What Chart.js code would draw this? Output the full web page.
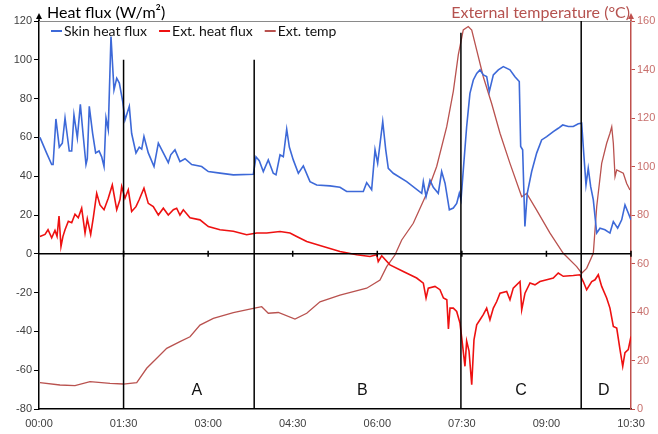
<!DOCTYPE html>
<html><head><meta charset="utf-8">
<script src="https://cdn.jsdelivr.net/npm/chart.js@4.4.0/dist/chart.umd.min.js"></script>
<style>html,body{margin:0;padding:0;background:#fff;overflow:hidden}#wrap{width:658px;height:434px;position:relative}</style>
</head><body><div id="wrap"><canvas id="c" width="658" height="434"></canvas></div>
<script>
// ---- data (time in minutes since 00:00) ----
const xTickLabels = ['00:00','01:30','03:00','04:30','06:00','07:30','09:00','10:30'];
const leftTicks = [-80,-60,-40,-20,0,20,40,60,80,100,120];
const rightTicks = [0,20,40,60,80,100,120,140,160];

const skinTime = [1,8,13.5,15,18,21.6,24.8,27.7,32.2,34.8,37.2,40.8,44,47.1,50,51.4,53.5,57.1,60.3,63.9,66.7,69.2,71.3,73.7,76.6,79.8,82.7,85.5,89.1,91.5,96.1,98.6,103.2,106.7,109.3,111.7,116.3,122.4,127,132.3,137.6,140.2,144.7,150,155.4,162.5,173.1,180.2,192.6,206.8,228.1,230.9,234.4,238.7,244,249.3,252.2,256.5,260,263.6,266.4,270.6,276,281.3,288.4,295.5,309.7,320.3,327.4,345.1,348.7,354,357.6,360.4,365.8,369,371.7,377,391.3,407.3,409,411.9,416.1,419.6,424.9,428.5,432.1,436.7,440.9,444.5,447.3,449.1,451.5,455.1,458.6,462.2,465.8,469.3,472.8,476.4,479.2,483.5,488.8,494.1,501.2,506.5,511.1,512.6,514.7,517.1,519.6,524.3,529.6,534.9,540.3,547.3,552.6,557.3,563.3,568.6,573.9,577.5,579.2,582.1,584.5,587.1,589.9,593.5,597,602.3,607.6,611.2,615.8,620.1,623.6,627.1,630];
const skinFlux = [60,52,46,46,69.5,55,57,70,53,53,71.6,59.7,77,60.6,46,49,76,62,52,53,50,45,70,64,112,84.5,90.5,88,78.5,69,76,62,52,55,54,60.5,52,45,57,52,47,51,53.6,47.5,49,46,45,42.4,41.6,40.7,41,50,48,42.4,48.4,41.5,40.7,51,50,64.2,55,48.4,41.5,45.3,37.2,35.5,35,34.3,32.1,32.1,36.7,33,53.6,46.7,68.2,53.6,44,41.5,37.2,31.2,37.2,29.5,38,34.3,31.2,42.4,36.4,22.7,23.6,26,31.2,27.8,43,65.5,82.7,89.6,93,94.8,92.2,91.4,83.6,92.2,94.8,96.5,94.8,91.3,88.8,55.3,53.6,14.1,31.2,42.4,51.9,58.7,60.4,63,64.7,66.4,65.6,65.6,67,67.3,55.3,35.5,44.1,34.6,27.8,10.7,13.2,12.4,10.7,16.6,13.2,17.5,25.2,21,17.5];

const extTime = [1,6.4,9.6,13.5,17,19.2,21.3,23.4,25.5,27.7,31.2,34.8,38.3,41.8,45.4,49,51.4,55,57.8,61.4,64.9,69.2,73.7,78,82.7,86.2,88,91.5,95,98.6,103.2,106.7,111.7,116.3,121.6,127,132.3,137.6,143,146.5,150,153.6,160.7,171.3,180.2,192.6,206.8,221,231.7,242.3,256.5,267.1,274.2,284.9,302.5,320.3,338.1,352.2,359.4,361,364.7,373.5,387.7,401.9,409,411.9,414.3,421.4,426.7,430.4,434,435.7,437.4,440.9,444.5,448,450.9,453.3,455.1,457.6,460.5,462.9,465.8,469.3,472.8,476.4,479.9,483.5,487.1,490.6,497.7,501.2,504.7,511.9,513.7,517.2,522.5,527.8,533.1,540.3,547.3,552.6,557.9,568.6,575.7,579.2,582.8,588.2,591.7,595.2,598.8,604.1,607.6,611.2,614.8,618.3,621.2,623.6,627.1,630];
const extFlux = [8.9,10,12.4,8.2,12,9,19.5,3.8,9,12.4,16.8,16,20.4,18.6,23.5,10.7,18,10,18.6,31.2,25.2,22.7,28.6,35.5,22.7,28,34.7,28.6,33,21.8,24.3,28,33.8,26,24.3,20,23.5,20,22.7,23.5,20,22.7,18.6,17.5,14,12.4,11.6,9.8,10.7,10.7,11.5,10.7,8.9,6.3,3.8,1.2,-0.5,-1.4,-0.5,-4,-1,-5.7,-9.1,-12.5,-15.1,-22.8,-17.7,-16.8,-18.5,-22.8,-23.7,-38.7,-28,-28,-29.7,-35.7,-47.7,-58,-45,-50,-67.5,-44.3,-36.6,-34,-31.4,-28,-34,-28,-24.6,-20.3,-19.4,-23.7,-17.7,-14.3,-28.8,-20.3,-15,-16,-14.3,-13.4,-12.5,-9.9,-11.6,-11.2,-10.8,-14.3,-18.5,-14.3,-13.4,-10.8,-16.8,-22.8,-28,-37.4,-38.3,-49.4,-58,-51,-49.4,-42.6];

const tempTime = [1,22.3,38.3,54.3,75.6,89.7,104,114.6,125.3,135.9,150,160.7,171.3,185.5,206.8,228.1,237,244,254.7,272.4,284.9,299,320.3,348.7,362.9,370,378.8,386,398.3,412.6,423.2,433.9,440.9,446.2,451.5,456.8,460.5,465.8,472.8,481.7,490.6,501.2,513.7,519,529.6,543.8,557.9,572.2,577.5,582.8,589.9,593.5,598.8,604.1,607.6,609.5,611.2,613,614.8,621.8,625.4,628.9];
const extTemp = [10.9,9.9,9.6,11.3,10.6,10.3,10.9,16.8,20.9,25,27.8,29.8,34.6,37.4,39.7,41.5,42.2,39.5,39.8,37.1,39.5,44.2,47,49.8,53.2,58.7,63.5,69.7,76.6,88.9,100,116.4,131,146,156.3,157.7,156.3,148,137,126,113.7,101.3,87.5,88.9,82,72.5,64.2,58.7,56,58,64.2,83.4,101.3,109.6,113.7,116.4,109.6,95.8,98.6,97.2,93,90.3];

const phaseStart = [90, 229, 449, 577];
const phaseTop = [100, 100, 114, 120];
const phaseNames = ['A','B','C','D'];
const phaseLabelTime = [168, 344, 513, 601];
const phaseLabelValue = -70.5;

const seriesNames = ['Skin heat flux','Ext. heat flux','Ext. temp'];
const leftTitle = 'Heat flux (W/m²)';
const rightTitle = 'External temperature (°C)';

// ---- build ----
const pts = (t, v) => t.map((x, i) => ({x, y: v[i]}));
const C_BLUE = '#3d69d8', C_RED = '#ee1111', C_BROWN = '#b9524f';
const UI = "'Lato','Open Sans',sans-serif";
const NUM = "'Liberation Sans','Arial',sans-serif";

const deco = {
  id: 'deco',
  afterDatasetsDraw(chart) {
    const {ctx, chartArea: a, scales: {x, y, y2}} = chart;
    ctx.save();
    // top frame line
    ctx.strokeStyle = '#8a8a8a'; ctx.lineWidth = 1;
    ctx.beginPath(); ctx.moveTo(a.left, a.top + 0.5); ctx.lineTo(a.right, a.top + 0.5); ctx.stroke();
    // zero line with ticks
    const y0 = y.getPixelForValue(0);
    ctx.strokeStyle = '#000'; ctx.lineWidth = 1.5;
    ctx.beginPath(); ctx.moveTo(a.left, y0); ctx.lineTo(a.right, y0);
    x.ticks.forEach(t => { if (t.value > x.min) { const px = x.getPixelForValue(t.value); ctx.moveTo(px, y0 - 3); ctx.lineTo(px, y0 + 3); } });
    ctx.stroke();
    // phase lines
    phaseStart.forEach((t, i) => {
      const px = x.getPixelForValue(t);
      ctx.beginPath(); ctx.moveTo(px, y.getPixelForValue(phaseTop[i])); ctx.lineTo(px, a.bottom); ctx.stroke();
    });
    // phase letters
    ctx.fillStyle = '#111'; ctx.font = "16px " + NUM; ctx.textAlign = 'center'; ctx.textBaseline = 'middle';
    phaseNames.forEach((n, i) => ctx.fillText(n, x.getPixelForValue(phaseLabelTime[i]), y.getPixelForValue(phaseLabelValue)));
    ctx.restore();
  },
  afterDraw(chart) {
    const {ctx, chartArea: a} = chart;
    ctx.save();
    // axis arrows
    const arrow = (px, col) => {
      ctx.strokeStyle = col; ctx.fillStyle = col; ctx.lineWidth = 1.5;
      ctx.beginPath(); ctx.moveTo(px, a.top); ctx.lineTo(px, a.top - 4); ctx.stroke();
      ctx.beginPath(); ctx.moveTo(px, a.top - 8); ctx.lineTo(px - 3, a.top - 2); ctx.lineTo(px + 3, a.top - 2); ctx.closePath(); ctx.fill();
    };
    arrow(a.left, '#000');
    arrow(a.right, '#c0504d');
    // titles
    ctx.textBaseline = 'alphabetic';
    ctx.font = "16px " + UI; ctx.fillStyle = '#000'; ctx.textAlign = 'left';
    ctx.fillText(leftTitle, a.left + 8, a.top - 3);
    ctx.fillStyle = '#b5524f'; ctx.textAlign = 'right';
    ctx.fillText(rightTitle, a.right - 1, a.top - 3);
    // legend
    ctx.font = "14px " + UI; ctx.textAlign = 'left'; ctx.textBaseline = 'middle';
    let lx = a.left + 12; const ly = a.top + 10;
    chart.data.datasets.forEach(ds => {
      ctx.strokeStyle = ds.borderColor; ctx.lineWidth = 2;
      ctx.beginPath(); ctx.moveTo(lx, ly); ctx.lineTo(lx + 11, ly); ctx.stroke();
      lx += 13;
      ctx.fillStyle = '#111'; ctx.fillText(ds.label, lx, ly);
      lx += ctx.measureText(ds.label).width + 12;
    });
    ctx.restore();
  }
};

new Chart(document.getElementById('c'), {
  type: 'line',
  data: {
    datasets: [
      {label: seriesNames[0], data: pts(skinTime, skinFlux), borderColor: C_BLUE, borderWidth: 1.6, yAxisID: 'y'},
      {label: seriesNames[1], data: pts(extTime, extFlux), borderColor: C_RED, borderWidth: 1.6, yAxisID: 'y'},
      {label: seriesNames[2], data: pts(tempTime, extTemp), borderColor: C_BROWN, borderWidth: 1.3, yAxisID: 'y2'}
    ]
  },
  options: {
    responsive: false, animation: false, devicePixelRatio: 1,
    layout: {padding: {top: 21, left: 0, right: 0, bottom: 0}},
    elements: {point: {radius: 0}, line: {tension: 0, fill: false}},
    plugins: {legend: {display: false}, tooltip: {enabled: false}},
    scales: {
      x: {
        type: 'linear', min: 0, max: 630,
        afterFit: s => { s.height = 25; },
        afterBuildTicks: s => { s.ticks = xTickLabels.map((_, i) => ({value: i * 90})); },
        ticks: {callback: (v) => xTickLabels[Math.round(v / 90)], maxRotation: 0, autoSkip: false, color: '#404040', padding: 8,
                font: {family: "'Liberation Sans Narrow','Arial Narrow','Liberation Sans',sans-serif", size: 11}},
        grid: {drawOnChartArea: false, drawTicks: false, color: '#000'},
        border: {color: '#000', width: 1.5}
      },
      y: {
        position: 'left', min: -80, max: 120,
        afterFit: s => { s.width = 39; },
        afterBuildTicks: s => { s.ticks = leftTicks.map(v => ({value: v})); },
        ticks: {color: '#404040', padding: 2, font: {family: NUM, size: 11}},
        grid: {drawOnChartArea: false, drawTicks: true, tickLength: 5, color: '#000'},
        border: {color: '#000', width: 1.5}
      },
      y2: {
        position: 'right', min: 0, max: 160,
        afterFit: s => { s.width = 27; },
        afterBuildTicks: s => { s.ticks = rightTicks.map(v => ({value: v})); },
        ticks: {color: '#c8706d', padding: 2, font: {family: NUM, size: 11}},
        grid: {drawOnChartArea: false, drawTicks: true, tickLength: 4, color: '#c0504d'},
        border: {color: '#c0504d', width: 1.5}
      }
    }
  },
  plugins: [deco]
});
</script>
</body></html>
